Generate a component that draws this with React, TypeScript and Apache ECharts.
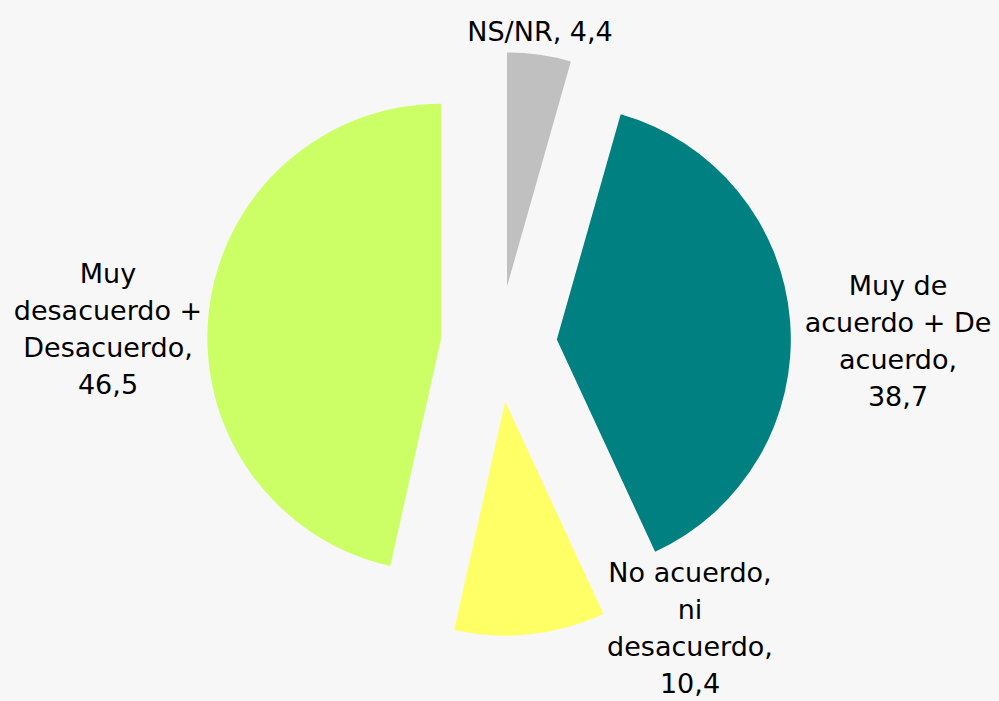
import React, { useEffect, useRef } from "react";
import * as echarts from "echarts";

const categories = [
  "NS/NR",
  "Muy de acuerdo + De acuerdo",
  "No acuerdo, ni desacuerdo",
  "Muy desacuerdo + Desacuerdo",
];
const labelTexts = [
  "NS/NR,",
  "Muy de\nacuerdo + De\nacuerdo,",
  "No acuerdo,\nni\ndesacuerdo,",
  "Muy\ndesacuerdo +\nDesacuerdo,",
];
const values = [4.4, 38.7, 10.4, 46.5];
const colors = ["#c0c0c0", "#008080", "#ffff66", "#ccff66"];

const CX = 499;
const CY = 344;
const R = 234;
const OFFSET = 58;

// label centers relative to pie center
const labelOffsets = [
  [41, -313],
  [399, -3],
  [191, 284],
  [-391, -15],
];

const fmt = (v: number) => v.toFixed(1).replace(".", ",");

export default function App() {
  const ref = useRef<HTMLDivElement>(null);
  useEffect(() => {
    document.body.style.margin = "0";
    if (!ref.current) return;
    const chart = echarts.init(ref.current, null, { renderer: "svg" });
    chart.setOption({
      animation: false,
      backgroundColor: "#f7f7f7",
      graphic: labelTexts.map((t, i) => ({
        type: "text",
        x: CX + labelOffsets[i][0],
        y: CY + labelOffsets[i][1],
        silent: true,
        style: {
          text: i === 0 ? `${t} ${fmt(values[i])}` : `${t}\n${fmt(values[i])}`,
          fontFamily: "DejaVu Sans",
          fontSize: 27,
          lineHeight: 37,
          fill: "#000",
          align: "center",
          verticalAlign: "middle",
        },
      })),
      series: [
        {
          type: "pie",
          center: [CX, CY],
          radius: [0, R],
          startAngle: 90,
          clockwise: true,
          selectedMode: "multiple",
          selectedOffset: OFFSET,
          emphasis: { disabled: true },
          select: { itemStyle: { borderWidth: 0 } },
          itemStyle: { borderWidth: 0 },
          label: { show: false },
          labelLine: { show: false },
          data: categories.map((name, i) => ({
            name,
            value: values[i],
            selected: true,
            itemStyle: { color: colors[i] },
          })),
        },
      ],
    });
    return () => chart.dispose();
  }, []);
  return <div ref={ref} style={{ width: 999, height: 701 }} />;
}
